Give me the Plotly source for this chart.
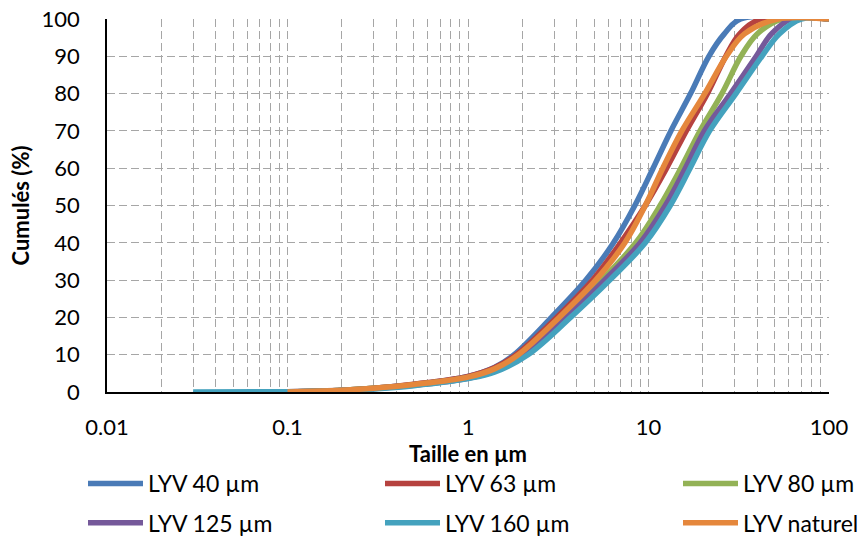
import plotly.graph_objects as go

names = ["LYV 40 µm", "LYV 63 µm", "LYV 80 µm", "LYV 125 µm", "LYV 160 µm", "LYV naturel"]
colors = ["#4A7BB7", "#B6423F", "#93B256", "#75599A", "#44A2BE", "#E5873C"]

size_40 = [0.1, 0.2, 0.3, 0.5, 1, 1.4, 1.8, 2.9, 4.5, 6.4, 8.4, 10.6, 13.3, 17.1, 21.6, 26.3, 32.4, 100]
cum_40 = [0, 0.5, 1, 2, 4.2, 6.6, 10, 20, 30, 40, 50, 60, 70, 80, 90, 96, 100, 100]

size_63 = [0.1, 0.2, 0.3, 0.5, 1, 1.4, 1.85, 3.1, 4.9, 7.0, 9.6, 12.6, 16.2, 21.2, 26.8, 32, 42, 100]
cum_63 = [0.1, 0.5, 1, 2.1, 4.2, 6.5, 10, 20, 30, 40, 50, 60, 70, 80, 90, 96, 100, 100]

size_80 = [0.1, 0.2, 0.3, 0.5, 1, 1.4, 2.0, 3.4, 5.5, 8.5, 11.6, 15.1, 19.3, 25.5, 32.5, 40, 55, 100]
cum_80 = [0, 0.5, 1, 1.9, 3.9, 5.9, 10, 20, 30, 40, 50, 60, 70, 80, 90, 96, 100, 100]

size_125 = [0.1, 0.2, 0.3, 0.5, 1, 1.4, 2.05, 3.5, 5.7, 9.0, 12.4, 16.0, 20.4, 28.5, 39.5, 48, 62, 100]
cum_125 = [0, 0.4, 0.9, 1.8, 3.7, 5.6, 10, 20, 30, 40, 50, 60, 70, 80, 90, 96, 100, 100]

size_160 = [0.03, 0.1, 0.2, 0.3, 0.5, 1, 1.4, 2.15, 3.7, 6.1, 9.6, 13.2, 17.0, 21.8, 30.5, 42.5, 53, 70, 100]
cum_160 = [0, 0.1, 0.4, 0.8, 1.7, 3.6, 5.3, 10, 20, 30, 40, 50, 60, 70, 80, 90, 96, 100, 100]

size_nat = [0.1, 0.2, 0.3, 0.5, 1, 1.4, 1.9, 3.2, 5.1, 7.4, 9.6, 12.0, 15.3, 20.5, 27, 34, 52, 100]
cum_nat = [0, 0.5, 1, 2, 4.0, 6.2, 10, 20, 30, 40, 50, 60, 70, 80, 90, 96, 100, 100]

sizes = [size_40, size_63, size_80, size_125, size_160, size_nat]
cums = [cum_40, cum_63, cum_80, cum_125, cum_160, cum_nat]
legend_ids = ["legend", "legend2", "legend3", "legend", "legend2", "legend3"]

x_tickvals = [0.01, 0.1, 1, 10, 100]
x_ticktext = ["0.01", "0.1", "1", "10", "100"]
y_title = "Cumulés (%)"
x_title = "Taille en µm"

FONT = "Lato, 'Open Sans', sans-serif"
GRID = "#A6A6A6"
W, H = 858, 530  # page body has an 8px offset inside the 866x538 window
ML, MR, MT, MB = 99, 37, 11, 146

fig = go.Figure()
for i, (n, c, xs, ys, lg) in enumerate(zip(names, colors, sizes, cums, legend_ids)):
    fig.add_trace(go.Scatter(
        x=xs, y=ys, name=n, mode="lines", legend=lg, legendgroup="g%d" % i,
        line=dict(color=c, width=5.5, shape="spline", smoothing=1.0),
    ))

def leg(xpx):
    return dict(
        orientation="v", xref="container", yref="container",
        xanchor="left", yanchor="top", x=xpx / W, y=1 - 454 / H,
        font=dict(family=FONT, size=23, color="#000"),
        itemwidth=55, tracegroupgap=6.5,
        bgcolor="rgba(0,0,0,0)", borderwidth=0,
    )

plot_w = W - ML - MR

fig.update_layout(
    width=W, height=H,
    margin=dict(l=ML, r=MR, t=MT, b=MB, autoexpand=False),
    paper_bgcolor="white", plot_bgcolor="white",
    font=dict(family=FONT, size=22, color="#000"),
    showlegend=True,
    legend=leg(75), legend2=leg(372), legend3=leg(670),
    xaxis=dict(
        type="log", range=[-2, 2],
        tickvals=x_tickvals, ticktext=x_ticktext,
        ticks="outside", ticklen=15, tickcolor="rgba(0,0,0,0)",
        tickfont=dict(family=FONT, size=22, color="#000"),
        ticklabeloverflow="allow",
        showgrid=True, gridcolor=GRID, griddash="8px,4px", gridwidth=1.2,
        minor=dict(dtick="D1", showgrid=True, gridcolor=GRID, griddash="8px,4px", gridwidth=1.2, ticks=""),
        showline=True, linecolor="#000", linewidth=1.5,
        zeroline=False,
        title=dict(text="<b>%s</b>" % x_title, font=dict(family=FONT, size=22, color="#000"), standoff=0),
    ),
    yaxis=dict(
        range=[0, 100], dtick=10,
        ticks="outside", ticklen=21, tickcolor="rgba(0,0,0,0)",
        tickfont=dict(family=FONT, size=22, color="#000"),
        ticklabeloverflow="allow",
        showgrid=True, gridcolor=GRID, griddash="8px,4px", gridwidth=1.2,
        showline=True, linecolor="#000", linewidth=1.5,
        zeroline=False,
    ),
    annotations=[dict(
        text="<b>%s</b>" % y_title, textangle=-90, showarrow=False,
        xref="paper", yref="paper", x=(12 - ML) / plot_w, y=0.5,
        xanchor="center", yanchor="middle",
        font=dict(family=FONT, size=22, color="#000"),
    )],
)

fig.write_html("out.html")
